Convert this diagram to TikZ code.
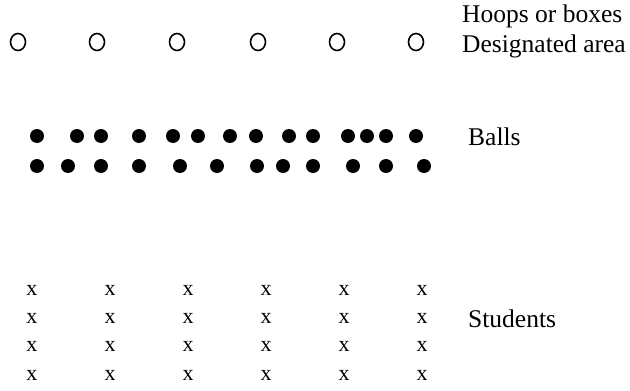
\documentclass[tikz,border=0pt]{standalone}
\usepackage{fontspec}
\setmainfont{Liberation Serif}
\usetikzlibrary{shapes.geometric}
\tikzset{
  hoop/.style={ellipse, draw=black, line width=1.6pt, fill=white,
               minimum width=15pt, minimum height=17pt, inner sep=0pt},
  ball/.style={circle, fill=black, minimum size=14pt, inner sep=0pt},
  student/.style={inner sep=0pt, font=\fontsize{22}{26}\selectfont},
  lbl/.style={anchor=base west, inner sep=0pt, font=\fontsize{25.5}{30}\selectfont},
}

\begin{document}
\begin{tikzpicture}[x=1pt, y=-1pt]
  \useasboundingbox (0,0) rectangle (630,391);

  % Hoops or boxes
  \foreach \hx [count=\i] in {18,97,177,258,337,416}
    \node[hoop] (hoop\i) at (\hx,42) {};
  \node[lbl] (hooplbl) at (462,22) {Hoops or boxes};
  \node[lbl] (arealbl) at (462,52) {Designated area};

  % Balls
  \foreach \bx [count=\i] in {37,77,101,139,173,198,230,256,289,313,348,367,386,416}
    \node[ball] (balla\i) at (\bx,136) {};
  \foreach \bx [count=\i] in {37,68,101,139,180,217,257,283,313,353,386,424}
    \node[ball] (ballb\i) at (\bx,166) {};
  \node[lbl] (balllbl) at (468,145) {Balls};

  % Students
  \foreach \sx [count=\c] in {32,110,188,266,344,422}
    \foreach \sy [count=\r] in {290,318,346,375}
      \node[student] (st\c\r) at (\sx,\sy) {x};
  \node[lbl] (studlbl) at (468,327) {Students};
\end{tikzpicture}
\end{document}
